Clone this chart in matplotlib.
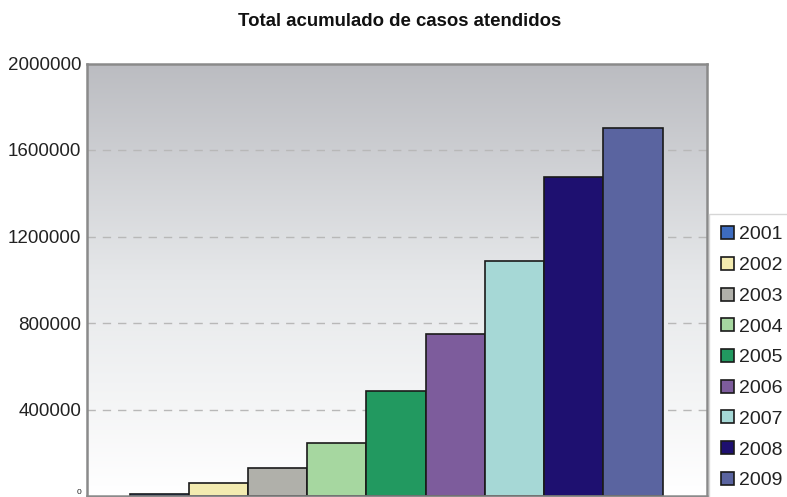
import matplotlib
matplotlib.use("Agg")
import matplotlib.pyplot as plt
import numpy as np
from matplotlib.colors import LinearSegmentedColormap

plt.rcParams['font.family'] = ['Liberation Sans', 'DejaVu Sans']

years = ['2001', '2002', '2003', '2004', '2005', '2006', '2007', '2008', '2009']
values = [9000, 62000, 130000, 245000, 487000, 748000, 1086000, 1475000, 1702000]
colors = ['#3d6cc0', '#f3ebb0', '#b0b0aa', '#a6d7a0', '#229960',
          '#7d5c9c', '#a6d8d6', '#1e1070', '#5a64a0']
yticks = [0, 400000, 800000, 1200000, 1600000, 2000000]
ytick_labels = ['0', '400000', '800000', '1200000', '1600000', '2000000']
title = 'Total acumulado de casos atendidos'

fig = plt.figure(figsize=(7.87, 4.97), dpi=100)
ax = fig.add_axes([87/787, 1/497, 620/787, 432.5/497])

# gradient background
cmap = LinearSegmentedColormap.from_list('bg', ['#ffffff', '#e6e8ea', '#bbbcc1'])
grad = np.linspace(0, 1, 256).reshape(-1, 1)
ax.imshow(grad, aspect='auto', cmap=cmap, origin='lower',
          extent=[0, 1, 0, 1], transform=ax.transAxes, zorder=0)

x = np.arange(len(years))
for i in range(len(years)):
    ax.bar(x[i], values[i], width=1.0, color=colors[i], edgecolor='#1a1a1a',
           linewidth=1.2, label=years[i], zorder=3)

ax.set_xlim(-1.218, 9.25)
ax.set_ylim(0, 2000000)
ax.set_xticks([])
ax.set_yticks(yticks)
ax.set_yticklabels(ytick_labels)
for t in ax.get_yticklabels():
    t.set_fontsize(13.5)
    t.set_color('#222222')
lbl0 = ax.get_yticklabels()[0]
lbl0.set_fontsize(6)
lbl0.set_verticalalignment('bottom')
ax.tick_params(axis='y', length=0, pad=4)

for y in yticks[1:-1]:
    ax.axhline(y, color='#b8b8b8', linestyle=(0, (6, 5)), linewidth=1.0, zorder=1)

for s in ax.spines.values():
    s.set_color('#8a8a8a')
    s.set_linewidth(1.8)
    s.set_zorder(5)

fig.text(400/787, 1 - 22/497, title, ha='center', va='center',
         fontsize=13.4, fontweight='bold', color='#111111')

leg = fig.legend(loc='upper left', bbox_to_anchor=(709/787, 1 - 214/497),
                 fontsize=14, frameon=True, fancybox=False,
                 handlelength=0.65, handleheight=0.65, handletextpad=0.25,
                 labelspacing=0.69, borderpad=0.62, borderaxespad=0)
leg.get_frame().set_edgecolor('#cccccc')
leg.get_frame().set_linewidth(1.0)
for t in leg.get_texts():
    t.set_color('#222222')

fig.savefig('out.png', dpi=100)
